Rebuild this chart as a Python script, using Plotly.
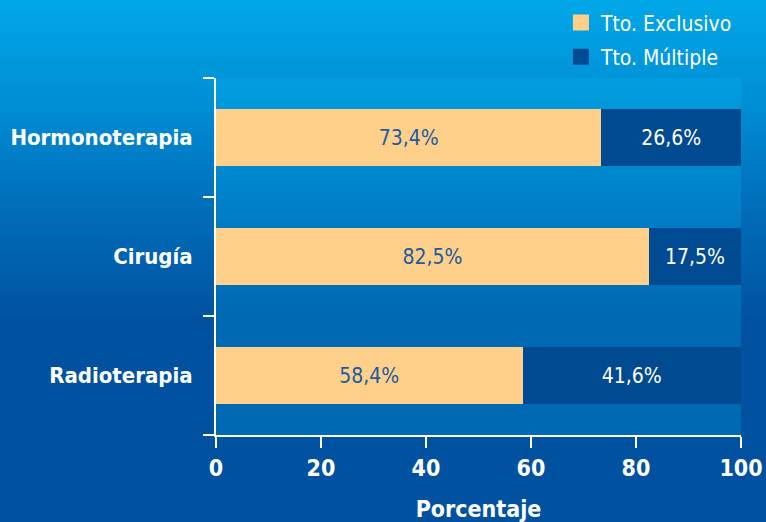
import plotly.graph_objects as go

categories = ["Radioterapia", "Cirugía", "Hormonoterapia"]
exclusivo = [58.4, 82.5, 73.4]
multiple = [41.6, 17.5, 26.6]
x_ticks = [0, 20, 40, 60, 80, 100]

FONT = "Liberation Sans Narrow, DejaVu Sans Condensed, Roboto, Arial"
W, H = 766, 522
L, R, T, B = 216, 25, 78, 87
ph = H - T - B
pw = W - L - R

C_EXCL = "#FFD08A"
C_MULT = "#004A91"

def fmt(v):
    return f"{v:.1f}".replace(".", ",") + "%"

fig = go.Figure()
fig.add_trace(go.Bar(
    y=categories, x=exclusivo, orientation="h", name="Tto. Exclusivo",
    marker=dict(color=C_EXCL, line=dict(width=0)),
    text=[fmt(v) for v in exclusivo], textposition="inside", insidetextanchor="middle",
    textfont=dict(color="#1E5AA0", size=21, family=FONT), width=0.48,
    hoverinfo="skip", showlegend=False))
fig.add_trace(go.Bar(
    y=categories, x=multiple, orientation="h", name="Tto. Múltiple",
    marker=dict(color=C_MULT, line=dict(width=0)),
    text=[fmt(v) for v in multiple], textposition="inside", insidetextanchor="middle",
    textfont=dict(color="white", size=21, family=FONT), width=0.48,
    hoverinfo="skip", showlegend=False))
# legend entries (square swatches)
for i, (name, c) in enumerate([("Tto. Exclusivo", C_EXCL), ("Tto. Múltiple", C_MULT)]):
    fig.add_trace(go.Scatter(x=[None], y=[None], mode="markers", name=name,
                             legendgroup="g%d" % i,
                             marker=dict(symbol="square", size=16, color=c, line=dict(width=0)),
                             showlegend=True, hoverinfo="skip"))

# background gradient (pixel stops)
stops = [(0, (0, 168, 232)), (100, (0, 143, 213)), (200, (0, 112, 188)), (320, (0, 82, 160)), (H, (0, 82, 160))]
def col_at(py):
    for (y0, c0), (y1, c1) in zip(stops[:-1], stops[1:]):
        if y0 <= py <= y1:
            t = (py - y0) / (y1 - y0) if y1 > y0 else 0
            return tuple(round(a + (b - a) * t) for a, b in zip(c0, c1))
    return stops[-1][1]

shapes = []
step = 4
for py in range(0, H, step):
    c = col_at(py + step / 2)
    shapes.append(dict(type="rect", xref="paper", yref="paper", layer="below",
                       x0=-L / pw - 0.02, x1=1 + R / pw + 0.02,
                       y0=(H - B - (py + step + 1.5)) / ph, y1=(H - B - py + 1) / ph,
                       fillcolor="rgb(%d,%d,%d)" % c, line=dict(width=0)))
# lighter plot area
shapes.append(dict(type="rect", xref="paper", yref="paper", layer="below",
                   x0=0, x1=1, y0=0, y1=1, fillcolor="rgba(0,200,255,0.2)", line=dict(width=0)))

fig.update_layout(
    width=W, height=H, barmode="stack",
    margin=dict(l=L, r=R, t=T, b=B, autoexpand=False),
    paper_bgcolor="#0052A0", plot_bgcolor="rgba(0,0,0,0)",
    shapes=shapes,
    font=dict(family=FONT, color="white"),
    legend=dict(x=0.657, y=1.212, xanchor="left", yanchor="top",
                font=dict(size=21, color="white", family=FONT),
                bgcolor="rgba(0,0,0,0)", traceorder="grouped", tracegroupgap=4,
                itemwidth=30),
    xaxis=dict(range=[0, 100], tickvals=x_ticks, showgrid=False, zeroline=False,
               showline=True, linecolor="white", linewidth=2,
               ticks="outside", ticklen=11, tickwidth=2, tickcolor="white",
               tickfont=dict(size=23, color="white", family=FONT, weight="bold"),
               title=dict(text="Porcentaje", font=dict(size=23, color="white", family=FONT, weight="bold"), standoff=22),
               fixedrange=True, automargin=False),
    yaxis=dict(categoryorder="array", categoryarray=categories, range=[-0.5, 2.5],
               showgrid=False, zeroline=False, showline=True, linecolor="white", linewidth=2,
               ticks="outside", ticklen=11, tickwidth=2, tickcolor="white", tickson="boundaries",
               tickfont=dict(size=22, color="white", family=FONT, weight="bold"),
               ticklabelstandoff=17, fixedrange=True, automargin=False),
    showlegend=True,
)
fig.write_html("out.html", config=dict(displayModeBar=False, staticPlot=True),
               post_script="document.body.style.margin='0';document.body.style.padding='0';"
                           "document.documentElement.style.overflow='hidden';")
